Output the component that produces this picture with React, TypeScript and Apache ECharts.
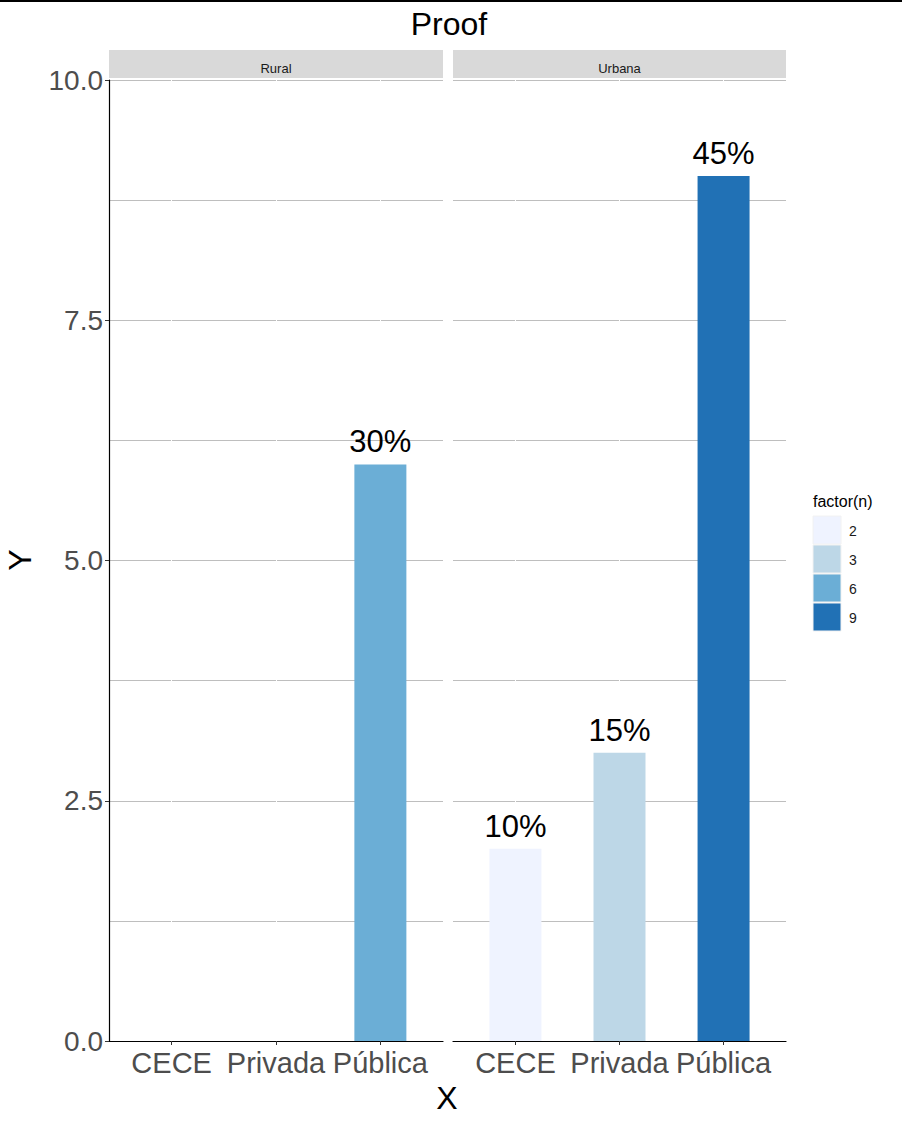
import React, { useEffect, useRef } from "react";
import * as echarts from "echarts";

const categories = ["CECE", "Privada", "Pública"];
const panels = ["Rural", "Urbana"];
const ruralValues: (number | null)[] = [null, null, 6];
const urbanaValues: (number | null)[] = [2, 3, 9];
const panelValues = [ruralValues, urbanaValues];
const levels = [2, 3, 6, 9];
const levelColors = ["#eff3ff", "#bdd7e7", "#6baed6", "#2171b5"];

const FONT = "'Liberation Sans', Arial, sans-serif";

export default function App() {
  const ref = useRef<HTMLDivElement>(null);
  useEffect(() => {
    document.body.style.margin = "0";
    if (!ref.current) return;
    const chart = echarts.init(ref.current, null, { renderer: "svg" });
    const total = panelValues.flat().reduce((s: number, v) => s + (v ?? 0), 0);
    const colorOf = (v: number) => levelColors[levels.indexOf(v)];

    const grids = [
      { left: 109, top: 80, width: 334, height: 961 },
      { left: 453, top: 80, width: 333, height: 961 },
    ];

    const xAxes = grids.map((_, i) => ({
      type: "value",
      gridIndex: i,
      min: 0.4,
      max: 3.6,
      axisLine: { show: true, onZero: false, lineStyle: { color: "#000", width: 1.2 } },
      axisTick: {
        show: true,
        length: 4,
        customValues: [1, 2, 3],
        lineStyle: { color: "#333", width: 1 },
      },
      axisLabel: {
        show: true,
        customValues: [1, 2, 3],
        formatter: (v: number) => categories[Math.round(v) - 1] ?? "",
        fontSize: 29,
        color: "#4d4d4d",
        fontFamily: FONT,
        margin: 7,
      },
      splitLine: { show: false },
    }));

    const yAxes = grids.map((_, i) => ({
      type: "value",
      gridIndex: i,
      min: 0,
      max: 10,
      interval: 2.5,
      axisLine: { show: i === 0, lineStyle: { color: "#000", width: 1.2 } },
      axisTick: { show: i === 0, length: 4, lineStyle: { color: "#333" } },
      axisLabel: {
        show: i === 0,
        formatter: (v: number) => v.toFixed(1),
        fontSize: 28,
        color: "#4d4d4d",
        fontFamily: FONT,
        margin: 6,
      },
      splitLine: { show: true, lineStyle: { color: "#bebebe", width: 1 } },
      minorTick: { show: false, splitNumber: 2 },
      minorSplitLine: { show: true, lineStyle: { color: "#bebebe", width: 1 } },
    }));

    const series: any[] = [];
    panelValues.forEach((vals, i) => {
      series.push({
        type: "scatter",
        xAxisIndex: i,
        yAxisIndex: i,
        data: [],
        z: 1,
        silent: true,
        markLine: {
          silent: true,
          z: 1,
          symbol: "none",
          label: { show: false },
          lineStyle: { color: "#ffffff", width: 1, type: "solid" },
          data: categories.map((_, k) => ({ xAxis: k + 1 })),
        },
      });
      series.push({
        type: "bar",
        xAxisIndex: i,
        yAxisIndex: i,
        z: 3,
        barWidth: 52,
        data: vals
          .map((v, k) =>
            v == null
              ? null
              : { value: [k + 1, v], itemStyle: { color: colorOf(v) } }
          )
          .filter((d) => d !== null),
        label: {
          show: true,
          position: "top",
          distance: 7,
          fontSize: 31,
          color: "#000",
          fontFamily: FONT,
          formatter: (p: any) => `${Math.round((p.value[1] / total) * 100)}%`,
        },
      });
    });

    const graphic: any[] = [
      { type: "rect", shape: { x: 0, y: 0, width: 902, height: 2 }, style: { fill: "#000" } },
      {
        type: "text",
        x: 449,
        y: 24,
        style: { text: "Proof", fontSize: 32, fontFamily: FONT, fill: "#000", align: "center", verticalAlign: "middle" },
      },
      {
        type: "text",
        x: 447,
        y: 1098,
        style: { text: "X", fontSize: 32, fontFamily: FONT, fill: "#000", align: "center", verticalAlign: "middle" },
      },
      {
        type: "text",
        x: 20,
        y: 560,
        rotation: Math.PI / 2,
        style: { text: "Y", fontSize: 32, fontFamily: FONT, fill: "#000", align: "center", verticalAlign: "middle" },
      },
      {
        type: "text",
        x: 813,
        y: 501,
        style: { text: "factor(n)", fontSize: 16, fontFamily: FONT, fill: "#000", align: "left", verticalAlign: "middle" },
      },
    ];
    grids.forEach((g, i) => {
      graphic.push({
        type: "rect",
        shape: { x: g.left, y: 50, width: g.width, height: 28 },
        style: { fill: "#d9d9d9" },
      });
      graphic.push({
        type: "text",
        x: g.left + g.width / 2,
        y: 68,
        style: { text: panels[i], fontSize: 13, fontFamily: FONT, fill: "#1a1a1a", align: "center", verticalAlign: "middle" },
      });
    });
    levels.forEach((lv, k) => {
      graphic.push({
        type: "rect",
        shape: { x: 813, y: 516 + k * 29, width: 28, height: 28 },
        style: { fill: levelColors[k], stroke: "#f2f2f2", lineWidth: 1 },
      });
      graphic.push({
        type: "text",
        x: 849,
        y: 531 + k * 29,
        style: { text: String(lv), fontSize: 14, fontFamily: FONT, fill: "#1a1a1a", align: "left", verticalAlign: "middle" },
      });
    });

    chart.setOption({
      animation: false,
      backgroundColor: "#fff",
      textStyle: { fontFamily: FONT },
      grid: grids.map((g) => ({ ...g, containLabel: false })),
      xAxis: xAxes,
      yAxis: yAxes,
      series,
      graphic,
    });
    return () => chart.dispose();
  }, []);
  return <div ref={ref} style={{ width: 902, height: 1125 }} />;
}
